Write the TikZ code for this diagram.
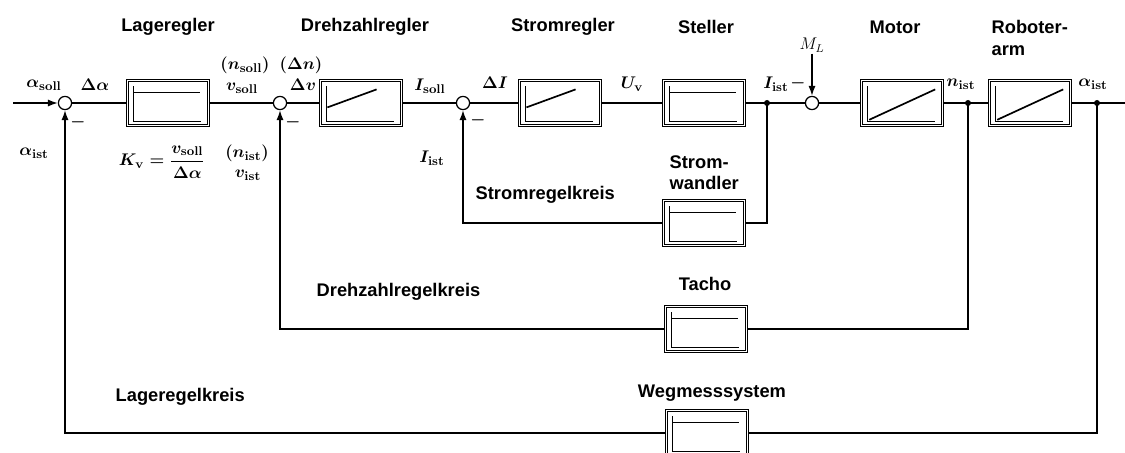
\documentclass[tikz,border=0pt]{standalone}
\usepackage{amsmath}
\usepackage{fontspec}
\newfontfamily\labelfont{Liberation Sans}
\usetikzlibrary{calc,arrows.meta}

\newcommand{\glyphaxes}{\draw[axis] ([shift={(.17cm,.98cm)}]path picture bounding box.south west) |- ([shift={(1.84cm,.12cm)}]path picture bounding box.south west);}

\tikzset{
  wire/.style={line width=.9pt},
  sumpt/.style={circle, draw, line width=.9pt, minimum size=.33cm, inner sep=0pt},
  branch/.style={circle, fill, inner sep=0pt, minimum size=.15cm},
  block/.style={draw, double, double distance=.8pt, line width=.8pt, minimum width=2.02cm, minimum height=1.12cm, inner sep=0pt},
  axis/.style={line width=.4pt, double, double distance=.5pt},
  resp/.style={line width=1.2pt},
  pblock/.style={block, path picture={\glyphaxes
    \draw[resp] ([shift={(.17cm,.82cm)}]path picture bounding box.south west) -- ++(1.63cm,0);}},
  piblock/.style={block, path picture={\glyphaxes
    \draw[resp] ([shift={(.17cm,.45cm)}]path picture bounding box.south west) -- ([shift={(1.4cm,.9cm)}]path picture bounding box.south west);}},
  iblock/.style={block, path picture={\glyphaxes
    \draw[resp] ([shift={(.19cm,.14cm)}]path picture bounding box.south west) -- ([shift={(1.84cm,.9cm)}]path picture bounding box.south west);}},
  title/.style={font=\labelfont\bfseries\fontsize{13}{15}\selectfont, inner sep=1pt},
  sig/.style={font=\fontsize{13}{15}\selectfont\boldmath, inner sep=1pt},
}

\begin{document}
\begin{tikzpicture}[>={Latex[length=7pt,width=5pt]}, x=0.025cm, y=-0.025cm]
\useasboundingbox (0,0) rectangle (1125,453);
\clip (0,0) rectangle (1125,453);

% forward path
\node[sumpt] (s1) at (65,103) {};
\node[pblock] (lr) at (168,103) {};
\node[sumpt] (s2) at (280,103) {};
\node[piblock] (dr) at (361,103) {};
\node[sumpt] (s3) at (463,103) {};
\node[piblock] (sr) at (560,103) {};
\node[pblock] (st) at (704,103) {};
\node[branch] (d1) at (767,103) {};
\node[sumpt] (s4) at (812,103) {};
\node[iblock] (mo) at (902,103) {};
\node[branch] (d2) at (968,103) {};
\node[iblock] (ra) at (1030,103) {};
\node[branch] (d3) at (1097,103) {};
\coordinate (in) at (13,103);
\coordinate (out) at (1125,103);

% feedback blocks
\node[pblock] (sw) at (704,223) {};
\node[pblock] (ta) at (706,329) {};
\node[pblock] (wm) at (707,433) {};

% titles
\node[title] (tlr) at (168,27) {Lageregler};
\node[title] (tdr) at (365,27) {Drehzahlregler};
\node[title] (tsr) at (563,27) {Stromregler};
\node[title] (tst) at (706,27) {Steller};
\node[title] (tmo) at (895,27) {Motor};
\node[title, anchor=west, align=left] (tra) at (990,38) {Roboter-\\arm};
\node[title, anchor=west, align=left] (tsw) at (668,173) {Strom-\\wandler};
\node[title, anchor=west] (ksr) at (474,195) {Stromregelkreis};
\node[title] (tta) at (705,284) {Tacho};
\node[title, anchor=west] (kdr) at (315,292) {Drehzahlregelkreis};
\node[title] (twm) at (712,393) {Wegmesssystem};
\node[title, anchor=west] (klr) at (114,397) {Lageregelkreis};

% signals
\node[sig] (asoll) at (44,85) {$\alpha_{\mathbf{soll}}$};
\node[sig] (dalpha) at (95,85) {$\Delta\alpha$};
\node[sig] (aist) at (34,153) {$\alpha_{\mathbf{ist}}$};
\node[sig] (kv) at (162,162) {$K_{\mathbf{v}}=\dfrac{v_{\mathbf{soll}}}{\Delta\alpha}$};
\node[sig] (nsoll) at (245,65) {$(n_{\mathbf{soll}})$};
\node[sig] (vsoll) at (242,88) {$v_{\mathbf{soll}}$};
\node[sig] (nist) at (247,153) {$(n_{\mathbf{ist}})$};
\node[sig] (vist) at (248,175) {$v_{\mathbf{ist}}$};
\node[sig] (dn) at (301,65) {$(\Delta n)$};
\node[sig] (dv) at (303,85) {$\Delta v$};
\node[sig] (isoll) at (430,86) {$I_{\mathbf{soll}}$};
\node[sig] (di) at (495,83) {$\Delta I$};
\node[sig] (iist) at (432,158) {$I_{\mathbf{ist}}$};
\node[sig] (uv) at (632,84) {$U_{\mathbf{v}}$};
\node[sig] (iist2) at (776,84) {$I_{\mathbf{ist}}$};
\node[sig] (nist2) at (961,84) {$n_{\mathbf{ist}}$};
\node[sig] (aist2) at (1093,84) {$\alpha_{\mathbf{ist}}$};
\node[font=\fontsize{12}{14}\selectfont, inner sep=1pt] (ml) at (812,45) {$M_L$};

% minus signs
\node[sig] (m1) at (78,122) {$-$};
\node[sig] (m2) at (293,122) {$-$};
\node[sig] (m3) at (478,120) {$-$};
\node[sig] (m4) at (798,83) {$-$};

% connectors
\draw[wire,->] (in) -- (s1);
\draw[wire] (s1) -- (lr) -- (s2) -- (dr) -- (s3) -- (sr) -- (st) -- (s4) -- (mo) -- (ra) -- (out);
\draw[wire,->] (ml) -- (s4);

\draw[wire] (d1.center) |- (sw.east);
\draw[wire,->] (sw.west) -| (s3.south);
\draw[wire] (d2.center) |- (ta.east);
\draw[wire,->] (ta.west) -| (s2.south);
\draw[wire] (d3.center) |- (wm.east);
\draw[wire,->] (wm.west) -| (s1.south);
\end{tikzpicture}
\end{document}
